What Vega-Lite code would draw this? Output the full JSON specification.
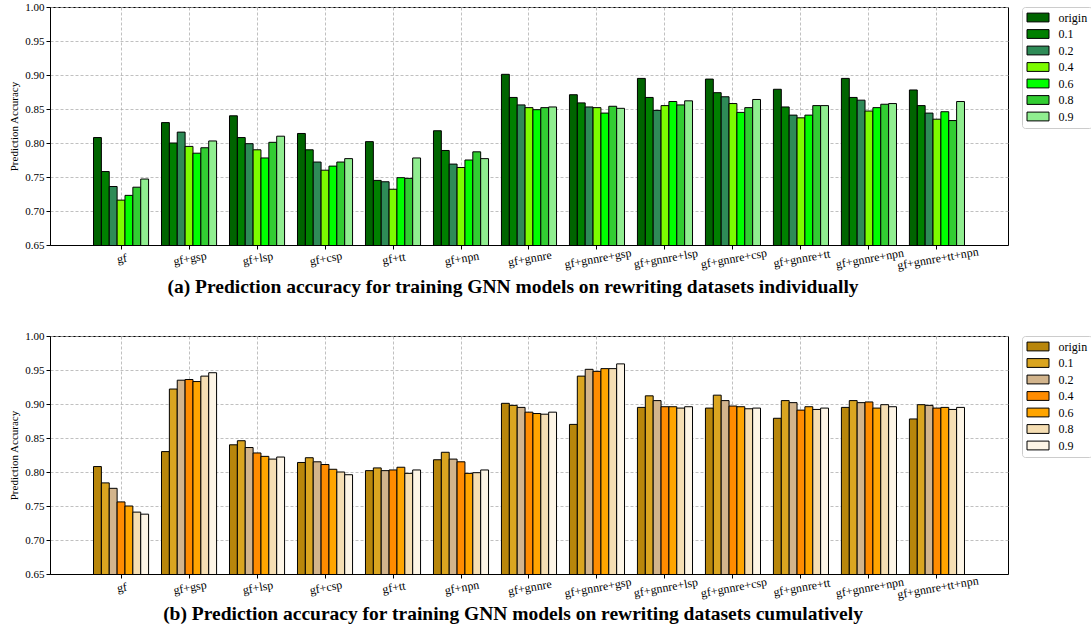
{
  "$schema": "https://vega.github.io/schema/vega-lite/v6.json",
  "padding": {"left": 8, "top": 0, "right": 0, "bottom": 0},
  "background": "white",
  "config": {
    "font": "Liberation Serif",
    "view": {"stroke": "black", "strokeWidth": 1},
    "axis": {
      "labelFont": "Liberation Serif",
      "titleFont": "Liberation Serif",
      "domainColor": "black",
      "tickColor": "black",
      "labelColor": "black",
      "titleColor": "black",
      "gridColor": "#b0b0b0",
      "gridDash": [3, 2],
      "gridWidth": 0.8,
      "tickSize": 4
    },
    "legend": {
      "orient": "right",
      "offset": 14,
      "padding": 4.5,
      "strokeColor": "#cccccc",
      "fillColor": "white",
      "cornerRadius": 3,
      "labelFont": "Liberation Serif",
      "labelFontSize": 12,
      "labelColor": "black",
      "labelOffset": 14.5,
      "symbolType": "M-2,-0.8H2V0.8H-2Z",
      "symbolSize": 121,
      "symbolOffset": 5.5,
      "symbolStrokeColor": "black",
      "symbolStrokeWidth": 1,
      "symbolOpacity": 1,
      "rowPadding": 2.5
    }
  },
  "datasets": {
    "a": [
      {"group": "gf", "ratio": "origin", "acc": 0.808}, {"group": "gf", "ratio": "0.1", "acc": 0.758}, {"group": "gf", "ratio": "0.2", "acc": 0.736}, {"group": "gf", "ratio": "0.4", "acc": 0.716}, {"group": "gf", "ratio": "0.6", "acc": 0.723}, {"group": "gf", "ratio": "0.8", "acc": 0.735}, {"group": "gf", "ratio": "0.9", "acc": 0.747},
      {"group": "gf+gsp", "ratio": "origin", "acc": 0.830}, {"group": "gf+gsp", "ratio": "0.1", "acc": 0.800}, {"group": "gf+gsp", "ratio": "0.2", "acc": 0.816}, {"group": "gf+gsp", "ratio": "0.4", "acc": 0.795}, {"group": "gf+gsp", "ratio": "0.6", "acc": 0.785}, {"group": "gf+gsp", "ratio": "0.8", "acc": 0.793}, {"group": "gf+gsp", "ratio": "0.9", "acc": 0.803},
      {"group": "gf+lsp", "ratio": "origin", "acc": 0.840}, {"group": "gf+lsp", "ratio": "0.1", "acc": 0.808}, {"group": "gf+lsp", "ratio": "0.2", "acc": 0.799}, {"group": "gf+lsp", "ratio": "0.4", "acc": 0.790}, {"group": "gf+lsp", "ratio": "0.6", "acc": 0.778}, {"group": "gf+lsp", "ratio": "0.8", "acc": 0.801}, {"group": "gf+lsp", "ratio": "0.9", "acc": 0.810},
      {"group": "gf+csp", "ratio": "origin", "acc": 0.814}, {"group": "gf+csp", "ratio": "0.1", "acc": 0.790}, {"group": "gf+csp", "ratio": "0.2", "acc": 0.772}, {"group": "gf+csp", "ratio": "0.4", "acc": 0.760}, {"group": "gf+csp", "ratio": "0.6", "acc": 0.766}, {"group": "gf+csp", "ratio": "0.8", "acc": 0.772}, {"group": "gf+csp", "ratio": "0.9", "acc": 0.777},
      {"group": "gf+tt", "ratio": "origin", "acc": 0.802}, {"group": "gf+tt", "ratio": "0.1", "acc": 0.745}, {"group": "gf+tt", "ratio": "0.2", "acc": 0.743}, {"group": "gf+tt", "ratio": "0.4", "acc": 0.732}, {"group": "gf+tt", "ratio": "0.6", "acc": 0.749}, {"group": "gf+tt", "ratio": "0.8", "acc": 0.748}, {"group": "gf+tt", "ratio": "0.9", "acc": 0.778},
      {"group": "gf+npn", "ratio": "origin", "acc": 0.818}, {"group": "gf+npn", "ratio": "0.1", "acc": 0.789}, {"group": "gf+npn", "ratio": "0.2", "acc": 0.769}, {"group": "gf+npn", "ratio": "0.4", "acc": 0.764}, {"group": "gf+npn", "ratio": "0.6", "acc": 0.775}, {"group": "gf+npn", "ratio": "0.8", "acc": 0.787}, {"group": "gf+npn", "ratio": "0.9", "acc": 0.777},
      {"group": "gf+gnnre", "ratio": "origin", "acc": 0.901}, {"group": "gf+gnnre", "ratio": "0.1", "acc": 0.867}, {"group": "gf+gnnre", "ratio": "0.2", "acc": 0.856}, {"group": "gf+gnnre", "ratio": "0.4", "acc": 0.852}, {"group": "gf+gnnre", "ratio": "0.6", "acc": 0.849}, {"group": "gf+gnnre", "ratio": "0.8", "acc": 0.852}, {"group": "gf+gnnre", "ratio": "0.9", "acc": 0.853},
      {"group": "gf+gnnre+gsp", "ratio": "origin", "acc": 0.871}, {"group": "gf+gnnre+gsp", "ratio": "0.1", "acc": 0.859}, {"group": "gf+gnnre+gsp", "ratio": "0.2", "acc": 0.853}, {"group": "gf+gnnre+gsp", "ratio": "0.4", "acc": 0.852}, {"group": "gf+gnnre+gsp", "ratio": "0.6", "acc": 0.844}, {"group": "gf+gnnre+gsp", "ratio": "0.8", "acc": 0.854}, {"group": "gf+gnnre+gsp", "ratio": "0.9", "acc": 0.851},
      {"group": "gf+gnnre+lsp", "ratio": "origin", "acc": 0.895}, {"group": "gf+gnnre+lsp", "ratio": "0.1", "acc": 0.867}, {"group": "gf+gnnre+lsp", "ratio": "0.2", "acc": 0.848}, {"group": "gf+gnnre+lsp", "ratio": "0.4", "acc": 0.855}, {"group": "gf+gnnre+lsp", "ratio": "0.6", "acc": 0.861}, {"group": "gf+gnnre+lsp", "ratio": "0.8", "acc": 0.856}, {"group": "gf+gnnre+lsp", "ratio": "0.9", "acc": 0.862},
      {"group": "gf+gnnre+csp", "ratio": "origin", "acc": 0.894}, {"group": "gf+gnnre+csp", "ratio": "0.1", "acc": 0.874}, {"group": "gf+gnnre+csp", "ratio": "0.2", "acc": 0.868}, {"group": "gf+gnnre+csp", "ratio": "0.4", "acc": 0.858}, {"group": "gf+gnnre+csp", "ratio": "0.6", "acc": 0.845}, {"group": "gf+gnnre+csp", "ratio": "0.8", "acc": 0.852}, {"group": "gf+gnnre+csp", "ratio": "0.9", "acc": 0.864},
      {"group": "gf+gnnre+tt", "ratio": "origin", "acc": 0.879}, {"group": "gf+gnnre+tt", "ratio": "0.1", "acc": 0.853}, {"group": "gf+gnnre+tt", "ratio": "0.2", "acc": 0.841}, {"group": "gf+gnnre+tt", "ratio": "0.4", "acc": 0.837}, {"group": "gf+gnnre+tt", "ratio": "0.6", "acc": 0.841}, {"group": "gf+gnnre+tt", "ratio": "0.8", "acc": 0.855}, {"group": "gf+gnnre+tt", "ratio": "0.9", "acc": 0.855},
      {"group": "gf+gnnre+npn", "ratio": "origin", "acc": 0.895}, {"group": "gf+gnnre+npn", "ratio": "0.1", "acc": 0.867}, {"group": "gf+gnnre+npn", "ratio": "0.2", "acc": 0.863}, {"group": "gf+gnnre+npn", "ratio": "0.4", "acc": 0.847}, {"group": "gf+gnnre+npn", "ratio": "0.6", "acc": 0.852}, {"group": "gf+gnnre+npn", "ratio": "0.8", "acc": 0.857}, {"group": "gf+gnnre+npn", "ratio": "0.9", "acc": 0.858},
      {"group": "gf+gnnre+tt+npn", "ratio": "origin", "acc": 0.878}, {"group": "gf+gnnre+tt+npn", "ratio": "0.1", "acc": 0.855}, {"group": "gf+gnnre+tt+npn", "ratio": "0.2", "acc": 0.844}, {"group": "gf+gnnre+tt+npn", "ratio": "0.4", "acc": 0.835}, {"group": "gf+gnnre+tt+npn", "ratio": "0.6", "acc": 0.846}, {"group": "gf+gnnre+tt+npn", "ratio": "0.8", "acc": 0.833}, {"group": "gf+gnnre+tt+npn", "ratio": "0.9", "acc": 0.861}
    ],
    "b": [
      {"group": "gf", "ratio": "origin", "acc": 0.808}, {"group": "gf", "ratio": "0.1", "acc": 0.784}, {"group": "gf", "ratio": "0.2", "acc": 0.776}, {"group": "gf", "ratio": "0.4", "acc": 0.756}, {"group": "gf", "ratio": "0.6", "acc": 0.750}, {"group": "gf", "ratio": "0.8", "acc": 0.741}, {"group": "gf", "ratio": "0.9", "acc": 0.738},
      {"group": "gf+gsp", "ratio": "origin", "acc": 0.830}, {"group": "gf+gsp", "ratio": "0.1", "acc": 0.922}, {"group": "gf+gsp", "ratio": "0.2", "acc": 0.935}, {"group": "gf+gsp", "ratio": "0.4", "acc": 0.936}, {"group": "gf+gsp", "ratio": "0.6", "acc": 0.933}, {"group": "gf+gsp", "ratio": "0.8", "acc": 0.941}, {"group": "gf+gsp", "ratio": "0.9", "acc": 0.946},
      {"group": "gf+lsp", "ratio": "origin", "acc": 0.840}, {"group": "gf+lsp", "ratio": "0.1", "acc": 0.846}, {"group": "gf+lsp", "ratio": "0.2", "acc": 0.836}, {"group": "gf+lsp", "ratio": "0.4", "acc": 0.828}, {"group": "gf+lsp", "ratio": "0.6", "acc": 0.823}, {"group": "gf+lsp", "ratio": "0.8", "acc": 0.819}, {"group": "gf+lsp", "ratio": "0.9", "acc": 0.822},
      {"group": "gf+csp", "ratio": "origin", "acc": 0.814}, {"group": "gf+csp", "ratio": "0.1", "acc": 0.821}, {"group": "gf+csp", "ratio": "0.2", "acc": 0.815}, {"group": "gf+csp", "ratio": "0.4", "acc": 0.811}, {"group": "gf+csp", "ratio": "0.6", "acc": 0.804}, {"group": "gf+csp", "ratio": "0.8", "acc": 0.800}, {"group": "gf+csp", "ratio": "0.9", "acc": 0.796},
      {"group": "gf+tt", "ratio": "origin", "acc": 0.802}, {"group": "gf+tt", "ratio": "0.1", "acc": 0.806}, {"group": "gf+tt", "ratio": "0.2", "acc": 0.802}, {"group": "gf+tt", "ratio": "0.4", "acc": 0.803}, {"group": "gf+tt", "ratio": "0.6", "acc": 0.807}, {"group": "gf+tt", "ratio": "0.8", "acc": 0.798}, {"group": "gf+tt", "ratio": "0.9", "acc": 0.803},
      {"group": "gf+npn", "ratio": "origin", "acc": 0.818}, {"group": "gf+npn", "ratio": "0.1", "acc": 0.829}, {"group": "gf+npn", "ratio": "0.2", "acc": 0.819}, {"group": "gf+npn", "ratio": "0.4", "acc": 0.815}, {"group": "gf+npn", "ratio": "0.6", "acc": 0.798}, {"group": "gf+npn", "ratio": "0.8", "acc": 0.799}, {"group": "gf+npn", "ratio": "0.9", "acc": 0.803},
      {"group": "gf+gnnre", "ratio": "origin", "acc": 0.901}, {"group": "gf+gnnre", "ratio": "0.1", "acc": 0.898}, {"group": "gf+gnnre", "ratio": "0.2", "acc": 0.895}, {"group": "gf+gnnre", "ratio": "0.4", "acc": 0.888}, {"group": "gf+gnnre", "ratio": "0.6", "acc": 0.886}, {"group": "gf+gnnre", "ratio": "0.8", "acc": 0.885}, {"group": "gf+gnnre", "ratio": "0.9", "acc": 0.888},
      {"group": "gf+gnnre+gsp", "ratio": "origin", "acc": 0.870}, {"group": "gf+gnnre+gsp", "ratio": "0.1", "acc": 0.941}, {"group": "gf+gnnre+gsp", "ratio": "0.2", "acc": 0.951}, {"group": "gf+gnnre+gsp", "ratio": "0.4", "acc": 0.948}, {"group": "gf+gnnre+gsp", "ratio": "0.6", "acc": 0.952}, {"group": "gf+gnnre+gsp", "ratio": "0.8", "acc": 0.952}, {"group": "gf+gnnre+gsp", "ratio": "0.9", "acc": 0.959},
      {"group": "gf+gnnre+lsp", "ratio": "origin", "acc": 0.895}, {"group": "gf+gnnre+lsp", "ratio": "0.1", "acc": 0.912}, {"group": "gf+gnnre+lsp", "ratio": "0.2", "acc": 0.905}, {"group": "gf+gnnre+lsp", "ratio": "0.4", "acc": 0.896}, {"group": "gf+gnnre+lsp", "ratio": "0.6", "acc": 0.896}, {"group": "gf+gnnre+lsp", "ratio": "0.8", "acc": 0.894}, {"group": "gf+gnnre+lsp", "ratio": "0.9", "acc": 0.896},
      {"group": "gf+gnnre+csp", "ratio": "origin", "acc": 0.894}, {"group": "gf+gnnre+csp", "ratio": "0.1", "acc": 0.913}, {"group": "gf+gnnre+csp", "ratio": "0.2", "acc": 0.905}, {"group": "gf+gnnre+csp", "ratio": "0.4", "acc": 0.897}, {"group": "gf+gnnre+csp", "ratio": "0.6", "acc": 0.896}, {"group": "gf+gnnre+csp", "ratio": "0.8", "acc": 0.893}, {"group": "gf+gnnre+csp", "ratio": "0.9", "acc": 0.894},
      {"group": "gf+gnnre+tt", "ratio": "origin", "acc": 0.879}, {"group": "gf+gnnre+tt", "ratio": "0.1", "acc": 0.905}, {"group": "gf+gnnre+tt", "ratio": "0.2", "acc": 0.902}, {"group": "gf+gnnre+tt", "ratio": "0.4", "acc": 0.891}, {"group": "gf+gnnre+tt", "ratio": "0.6", "acc": 0.896}, {"group": "gf+gnnre+tt", "ratio": "0.8", "acc": 0.892}, {"group": "gf+gnnre+tt", "ratio": "0.9", "acc": 0.894},
      {"group": "gf+gnnre+npn", "ratio": "origin", "acc": 0.895}, {"group": "gf+gnnre+npn", "ratio": "0.1", "acc": 0.905}, {"group": "gf+gnnre+npn", "ratio": "0.2", "acc": 0.902}, {"group": "gf+gnnre+npn", "ratio": "0.4", "acc": 0.903}, {"group": "gf+gnnre+npn", "ratio": "0.6", "acc": 0.894}, {"group": "gf+gnnre+npn", "ratio": "0.8", "acc": 0.899}, {"group": "gf+gnnre+npn", "ratio": "0.9", "acc": 0.896},
      {"group": "gf+gnnre+tt+npn", "ratio": "origin", "acc": 0.878}, {"group": "gf+gnnre+tt+npn", "ratio": "0.1", "acc": 0.899}, {"group": "gf+gnnre+tt+npn", "ratio": "0.2", "acc": 0.898}, {"group": "gf+gnnre+tt+npn", "ratio": "0.4", "acc": 0.894}, {"group": "gf+gnnre+tt+npn", "ratio": "0.6", "acc": 0.895}, {"group": "gf+gnnre+tt+npn", "ratio": "0.8", "acc": 0.892}, {"group": "gf+gnnre+tt+npn", "ratio": "0.9", "acc": 0.895}
    ]
  },
  "vconcat": [
    {
      "data": {"name": "a"},
      "width": 958,
      "height": 238,
      "title": {"text": "(a) Prediction accuracy for training GNN models on rewriting datasets individually", "orient": "bottom", "anchor": "middle", "frame": "group", "dx": -16, "font": "Liberation Serif", "fontSize": 19.5, "fontWeight": "bold", "color": "black", "offset": 7},
      "mark": {"type": "bar", "stroke": "black", "strokeWidth": 1, "clip": true},
      "encoding": {
        "x": {"field": "group", "type": "nominal", "sort": ["gf", "gf+gsp", "gf+lsp", "gf+csp", "gf+tt", "gf+npn", "gf+gnnre", "gf+gnnre+gsp", "gf+gnnre+lsp", "gf+gnnre+csp", "gf+gnnre+tt", "gf+gnnre+npn", "gf+gnnre+tt+npn"], "scale": {"paddingInner": 0.19, "paddingOuter": 0.64}, "axis": {"title": null, "labelAngle": -10, "labelAlign": "center", "labelBaseline": "top", "labelFont": "Liberation Serif", "labelFontSize": 12, "labelPadding": 4, "grid": true, "bandPosition": 0.5, "domain": true}},
        "xOffset": {"field": "ratio", "type": "nominal", "sort": ["origin", "0.1", "0.2", "0.4", "0.6", "0.8", "0.9"]},
        "y": {"field": "acc", "type": "quantitative", "scale": {"domain": [0.65, 1.0], "zero": false, "nice": false}, "axis": {"title": "Prediction Accuracy", "titleFont": "Liberation Serif", "titleFontSize": 11, "titleFontWeight": "normal", "titlePadding": 5, "labelFont": "Liberation Serif", "labelFontSize": 11, "labelPadding": 2, "format": ".2f", "values": [0.65, 0.7, 0.75, 0.8, 0.85, 0.9, 0.95, 1.0], "grid": true}},
        "color": {"field": "ratio", "type": "nominal", "sort": ["origin", "0.1", "0.2", "0.4", "0.6", "0.8", "0.9"], "scale": {"range": ["#006400", "#008000", "#2E8B57", "#7CFC00", "#00FF00", "#32CD32", "#90EE90"]}, "legend": {"title": null, "labelFont": "Liberation Serif"}}
      }
    },
    {
      "data": {"name": "b"},
      "width": 958,
      "height": 238,
      "title": {"text": "(b) Prediction accuracy for training GNN models on rewriting datasets cumulatively", "orient": "bottom", "anchor": "middle", "frame": "group", "dx": -16, "font": "Liberation Serif", "fontSize": 19.5, "fontWeight": "bold", "color": "black", "offset": 5},
      "mark": {"type": "bar", "stroke": "black", "strokeWidth": 1, "clip": true},
      "encoding": {
        "x": {"field": "group", "type": "nominal", "sort": ["gf", "gf+gsp", "gf+lsp", "gf+csp", "gf+tt", "gf+npn", "gf+gnnre", "gf+gnnre+gsp", "gf+gnnre+lsp", "gf+gnnre+csp", "gf+gnnre+tt", "gf+gnnre+npn", "gf+gnnre+tt+npn"], "scale": {"paddingInner": 0.19, "paddingOuter": 0.64}, "axis": {"title": null, "labelAngle": -10, "labelAlign": "center", "labelBaseline": "top", "labelFont": "Liberation Serif", "labelFontSize": 12, "labelPadding": 4, "grid": true, "bandPosition": 0.5, "domain": true}},
        "xOffset": {"field": "ratio", "type": "nominal", "sort": ["origin", "0.1", "0.2", "0.4", "0.6", "0.8", "0.9"]},
        "y": {"field": "acc", "type": "quantitative", "scale": {"domain": [0.65, 1.0], "zero": false, "nice": false}, "axis": {"title": "Prediction Accuracy", "titleFont": "Liberation Serif", "titleFontSize": 11, "titleFontWeight": "normal", "titlePadding": 5, "labelFont": "Liberation Serif", "labelFontSize": 11, "labelPadding": 2, "format": ".2f", "values": [0.65, 0.7, 0.75, 0.8, 0.85, 0.9, 0.95, 1.0], "grid": true}},
        "color": {"field": "ratio", "type": "nominal", "sort": ["origin", "0.1", "0.2", "0.4", "0.6", "0.8", "0.9"], "scale": {"range": ["#B8860B", "#DAA520", "#D2B48C", "#FF8C00", "#FFA500", "#F5DEB3", "#FDF5E6"]}, "legend": {"title": null, "labelFont": "Liberation Serif"}}
      }
    }
  ],
  "spacing": 32,
  "resolve": {"scale": {"color": "independent"}, "legend": {"color": "independent"}}
}
